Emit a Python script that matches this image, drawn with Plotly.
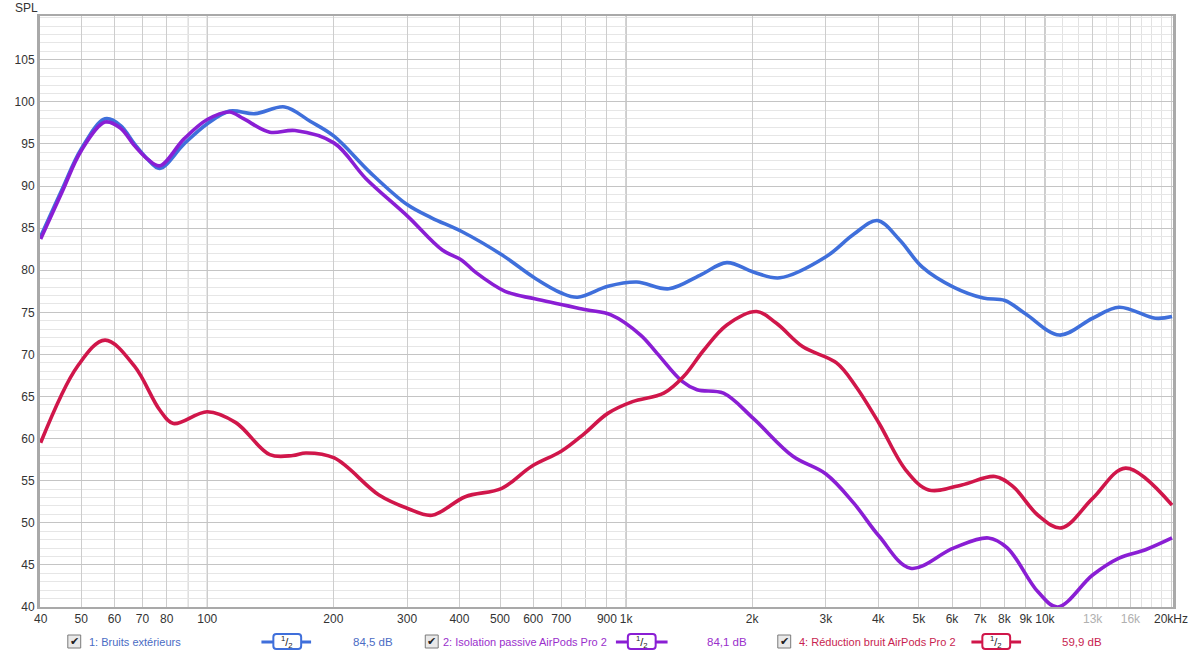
import math
import plotly.graph_objects as go

# ---------------- data ----------------
freq_ext = [40, 45, 50, 57, 62, 67, 72, 77, 88, 100, 113, 130, 153, 176, 201, 245, 300, 344, 405, 506, 604, 700,
            766, 905, 1060, 1265, 1500, 1740, 2012, 2328, 3000, 3500, 3980, 4500, 5089, 6047, 7126, 8024, 9000,
            10830, 13000, 15030, 18350, 20110]
spl_ext = [84.0, 89.6, 94.4, 98.0, 97.2, 95.0, 93.2, 92.1, 95.0, 97.4, 98.9, 98.6, 99.4, 97.7, 95.9, 91.6, 87.8,
           86.2, 84.6, 81.8, 79.1, 77.3, 76.8, 78.1, 78.6, 77.8, 79.4, 80.9, 79.8, 79.1, 81.6, 84.3, 85.9, 83.6,
           80.4, 78.0, 76.7, 76.4, 74.8, 72.3, 74.3, 75.6, 74.3, 74.5]

freq_pas = [40, 45, 50, 57, 62, 67, 72, 77, 88, 100, 113, 122, 141, 162, 201, 239, 301, 364, 405, 436, 514, 605,
            803, 920, 1083, 1187, 1361, 1477, 1708, 2012, 2502, 3000, 3500, 4020, 4776, 6047, 7327, 8140, 9625,
            10730, 13000, 15030, 17380, 20110]
spl_pas = [83.7, 89.3, 94.2, 97.6, 96.9, 94.8, 93.2, 92.4, 95.6, 97.9, 98.8, 98.0, 96.4, 96.6, 95.1, 90.9, 86.4,
           82.4, 81.2, 79.8, 77.5, 76.6, 75.3, 74.7, 72.3, 70.1, 66.8, 65.8, 65.4, 62.4, 57.9, 55.8, 52.3, 48.4,
           44.6, 47.0, 48.2, 47.0, 41.8, 40.0, 43.8, 45.8, 46.8, 48.2]

freq_anc = [40, 49, 57, 67, 77, 83, 100, 117, 141, 160, 172, 201, 257, 301, 344, 413, 505, 594, 700, 795, 904,
            1036, 1230, 1373, 1532, 1740, 2050, 2286, 2643, 3180, 3537, 4020, 4648, 5277, 6330, 7596, 8396,
            9625, 10950, 13000, 15580, 20110]
spl_anc = [59.5, 68.6, 71.7, 68.6, 63.4, 61.8, 63.2, 61.9, 58.1, 58.0, 58.3, 57.7, 53.3, 51.7, 50.9, 53.1, 54.1,
           56.7, 58.5, 60.6, 63.0, 64.4, 65.4, 67.4, 70.5, 73.5, 75.1, 73.7, 70.9, 69.0, 66.2, 61.8, 56.3, 53.9,
           54.5, 55.5, 54.3, 50.9, 49.4, 52.9, 56.5, 52.1]

series_names = ["1: Bruits extérieurs", "2: Isolation passive AirPods Pro 2", "4: Réduction bruit AirPods Pro 2"]
series_levels = ["84,5 dB", "84,1 dB", "59,9 dB"]

x_tick_vals = [40, 50, 60, 70, 80, 100, 200, 300, 400, 500, 600, 700, 900, 1000, 2000, 3000, 4000, 5000,
               6000, 7000, 8000, 9000, 10000, 13000, 16000, 20000]
x_tick_text = ["40", "50", "60", "70", "80", "100", "200", "300", "400", "500", "600", "700", "900", "1k",
               "2k", "3k", "4k", "5k", "6k", "7k", "8k", "9k", "10k", "13k", "16k", "20kHz"]
x_unlabeled_lines = [90, 800]
x_minor_vals = [11000, 12000, 14000, 15000, 17000, 18000, 19000]
x_decades = [100, 1000, 10000]
x_dim_labels = ["13k", "16k"]
y_tick_vals = [40, 45, 50, 55, 60, 65, 70, 75, 80, 85, 90, 95, 100, 105]

# ---------------- style ----------------
W, H = 1200, 656
L, R, T, B = 40, 19, 16, 49
colors = ["#3f6fdb", "#8a1ed4", "#d0164a"]
text_colors = ["#4a6cc4", "#9a2fcc", "#c81e50"]
FONT = "Liberation Sans, Arial, sans-serif"

fig = go.Figure()
for fx, sy, c, n in zip([freq_ext, freq_pas, freq_anc], [spl_ext, spl_pas, spl_anc], colors, series_names):
    fig.add_trace(go.Scatter(x=fx, y=sy, mode="lines", name=n, showlegend=False,
                             line=dict(color=c, width=3.6, shape="spline", smoothing=1.0),
                             hoverinfo="x+y"))

ticktext = [f'<span style="color:#b0b0b0">{t}</span>' if t in x_dim_labels else t for t in x_tick_text]

fig.update_layout(
    width=W, height=H,
    margin=dict(l=L, r=R, t=T, b=B, pad=0),
    paper_bgcolor="white", plot_bgcolor="white",
    font=dict(family=FONT, size=12, color="#333333"),
    xaxis=dict(type="log", range=[math.log10(40) - 0.0015, math.log10(20220)],
               tickmode="array", tickvals=x_tick_vals, ticktext=ticktext,
               showgrid=True, gridcolor="#cdcdcd", gridwidth=1,
               minor=dict(tickvals=x_minor_vals, showgrid=True, gridcolor="#e2e2e2", ticks=""),
               ticks="", showline=True, linecolor="#a9a9a9", linewidth=2, mirror=True,
               zeroline=False, tickfont=dict(size=12, color="#333333")),
    yaxis=dict(range=[40, 110.2], tickmode="array", tickvals=y_tick_vals,
               showgrid=True, gridcolor="#c4c4c4", gridwidth=1,
               minor=dict(dtick=1, showgrid=True, gridcolor="#e6e6e6", ticks=""),
               ticks="", showline=True, linecolor="#a9a9a9", linewidth=3, mirror=True,
               zeroline=False, tickfont=dict(size=12, color="#333333")),
)

# unlabeled grid lines and darker decade lines
for d in x_unlabeled_lines:
    fig.add_shape(type="line", xref="x", yref="paper", x0=d, x1=d, y0=0, y1=1,
                  line=dict(color="#cdcdcd", width=1), layer="between")
for d in x_decades:
    fig.add_shape(type="line", xref="x", yref="paper", x0=d, x1=d, y0=0, y1=1,
                  line=dict(color="#8e8e8e", width=1), layer="between")

PW = W - L - R
PH = H - T - B


def px(x):
    return (x - L) / PW


def py(y):
    return (H - B - y) / PH


# axis title
fig.add_annotation(text="SPL", x=px(26), y=py(8), xref="paper", yref="paper", showarrow=False,
                   xanchor="center", yanchor="middle", font=dict(size=12, color="#333333"))

# legend row (custom, like the original application)
legend_y = 642
items = [
    dict(cb=68, txt=87, l0=263, l1=313, b0=275, b1=303, val=353),
    dict(cb=428, txt=444, l0=620, l1=672, b0=632, b1=660, val=710),
    dict(cb=783, txt=802, l0=978, l1=1028, b0=989, b1=1017, val=1067),
]


def rounded_path(x0, y0, x1, y1, r):
    X0, X1 = px(x0), px(x1)
    Y0, Y1 = py(y0), py(y1)
    rx = r / PW
    ry = r / PH
    return (f"M {X0+rx},{Y0} L {X1-rx},{Y0} Q {X1},{Y0} {X1},{Y0-ry} L {X1},{Y1+ry} "
            f"Q {X1},{Y1} {X1-rx},{Y1} L {X0+rx},{Y1} Q {X0},{Y1} {X0},{Y1+ry} L {X0},{Y0-ry} "
            f"Q {X0},{Y0} {X0+rx},{Y0} Z")


for it, c, tc, name, lvl in zip(items, colors, text_colors, series_names, series_levels):
    # checkbox
    fig.add_shape(type="rect", xref="paper", yref="paper",
                  x0=px(it["cb"]), x1=px(it["cb"] + 13), y0=py(legend_y - 7), y1=py(legend_y + 6),
                  line=dict(color="#7a7a7a", width=1), fillcolor="#e9e9e9", layer="above")
    fig.add_annotation(text="✔", x=px(it["cb"] + 6.5), y=py(legend_y - 0.5), xref="paper", yref="paper",
                       showarrow=False, xanchor="center", yanchor="middle",
                       font=dict(family="DejaVu Sans", size=11, color="#222222"))
    # name
    fig.add_annotation(text=name, x=px(it["txt"]), y=py(legend_y), xref="paper", yref="paper",
                       showarrow=False, xanchor="left", yanchor="middle", font=dict(size=11, color=tc))
    # line sample
    fig.add_shape(type="line", xref="paper", yref="paper", x0=px(it["l0"]), x1=px(it["l1"]),
                  y0=py(legend_y), y1=py(legend_y), line=dict(color=c, width=3), layer="above")
    fig.add_shape(type="path", xref="paper", yref="paper",
                  path=rounded_path(it["b0"], legend_y - 8, it["b1"], legend_y + 7, 3),
                  line=dict(color=c, width=2), fillcolor="white", layer="above")
    fig.add_annotation(text="<sup>1</sup>/<sub>2</sub>", x=px((it["b0"] + it["b1"]) / 2), y=py(legend_y),
                       xref="paper", yref="paper", showarrow=False, xanchor="center", yanchor="middle",
                       font=dict(size=11, color="#222222"))
    # level
    fig.add_annotation(text=lvl, x=px(it["val"]), y=py(legend_y), xref="paper", yref="paper",
                       showarrow=False, xanchor="left", yanchor="middle", font=dict(size=11.5, color=tc))

fig.write_html("out.html")
